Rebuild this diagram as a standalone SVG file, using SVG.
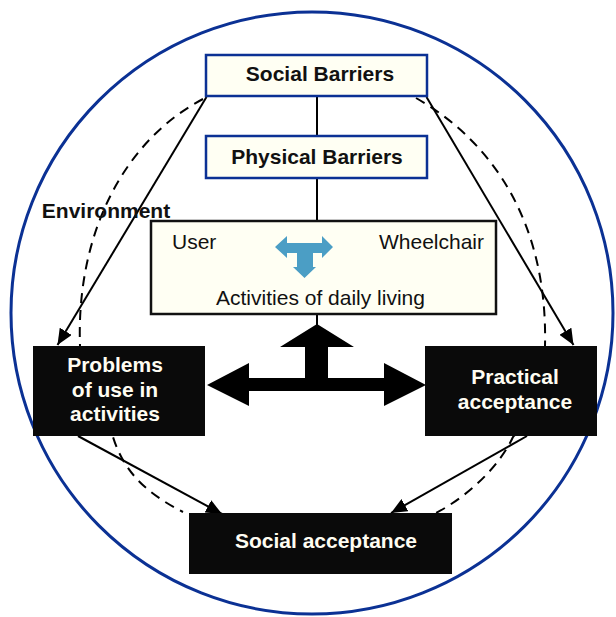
<svg xmlns="http://www.w3.org/2000/svg" width="616" height="617" viewBox="0 0 616 617">
<style>
.blue{fill:#fffff3;stroke:#0b3194;stroke-width:2.5}
.dark{fill:#0a0a0a;stroke:none}
.btxt{font-family:"Liberation Sans",Arial,sans-serif;font-weight:bold;font-size:21px;fill:#111;text-anchor:middle}
.wtxt{font-family:"Liberation Sans",Arial,sans-serif;font-weight:bold;font-size:21px;fill:#fffdf2;text-anchor:middle}
.rtxt{font-family:"Liberation Sans",Arial,sans-serif;font-size:21px;fill:#111}
.ln{stroke:#000;stroke-width:2;fill:none}
.dash{stroke:#000;stroke-width:2;fill:none;stroke-dasharray:10 7}
</style>
<defs>
<marker id="ah" markerUnits="userSpaceOnUse" markerWidth="16" markerHeight="14" refX="16" refY="7" orient="auto" viewBox="0 0 16 14">
<path d="M0,0 L16,7 L0,14 Z" fill="#000"/>
</marker>
</defs>
<rect width="616" height="617" fill="#fff"/>
<circle id="environment-circle" cx="312" cy="313" r="301" fill="none" stroke="#0b3194" stroke-width="3"/>
<g id="connectors">
<path class="dash" d="M203 99 C125 140 76 232 80 346 C82 400 95 420 113 437 C125 475 150 495 183 512"/>
<path class="dash" d="M416 98 C490 140 548 220 545 346 C543 395 530 420 513 437 C500 465 470 495 436 513"/>
<line class="ln" x1="206.5" y1="97" x2="57.5" y2="345" marker-end="url(#ah)"/>
<line class="ln" x1="426.5" y1="97" x2="573.5" y2="345" marker-end="url(#ah)"/>
<line class="ln" x1="78" y1="436" x2="222" y2="514" marker-end="url(#ah)"/>
<line class="ln" x1="527" y1="436" x2="391" y2="513" marker-end="url(#ah)"/>
<line class="ln" x1="317" y1="97" x2="317" y2="136"/>
<line class="ln" x1="317" y1="178" x2="317" y2="221"/>
<line class="ln" x1="317" y1="314" x2="317" y2="325"/>
<path id="big-arrow" fill="#000" d="M317 324 L354 347 L328 347 L328 378 L384 378 L384 363 L426 385 L384 406 L384 391 L249 391 L249 406 L207 385 L249 363 L249 378 L305 378 L305 347 L280 347 Z"/>
</g>
<g id="social-barriers">
<rect class="blue" x="206" y="55" width="221" height="41"/>
<text class="btxt" x="320" y="81">Social Barriers</text>
</g>
<g id="physical-barriers">
<rect class="blue" x="206" y="136" width="221" height="42"/>
<text class="btxt" x="317" y="164">Physical Barriers</text>
</g>
<g id="environment-label">
<text class="btxt" x="106" y="218">Environment</text>
</g>
<g id="user-wheelchair">
<rect x="151" y="221" width="345" height="93" fill="#fffff3" stroke="#111" stroke-width="2.5"/>
<text class="rtxt" x="172" y="249">User</text>
<text class="rtxt" x="484" y="249" text-anchor="end">Wheelchair</text>
<path fill="#4b9ec5" d="M275 247 L287 236 L287 243 L322 243 L322 236 L333 247 L322 258 L322 253 L313 253 L313 267 L316 267 L304.5 278 L293 267 L297 267 L297 253 L287 253 L287 258 Z"/>
<text class="rtxt" x="320.5" y="305" text-anchor="middle">Activities of daily living</text>
</g>
<g id="problems">
<rect class="dark" x="33" y="346" width="172" height="90"/>
<text class="wtxt" x="115" y="372">Problems</text>
<text class="wtxt" x="115" y="397">of use in</text>
<text class="wtxt" x="115" y="421">activities</text>
</g>
<g id="practical">
<rect class="dark" x="425" y="346" width="172" height="90"/>
<text class="wtxt" x="515" y="384">Practical</text>
<text class="wtxt" x="515" y="409">acceptance</text>
</g>
<g id="social-acceptance">
<rect class="dark" x="189" y="513" width="263" height="61"/>
<text class="wtxt" x="326" y="548">Social acceptance</text>
</g>
</svg>
